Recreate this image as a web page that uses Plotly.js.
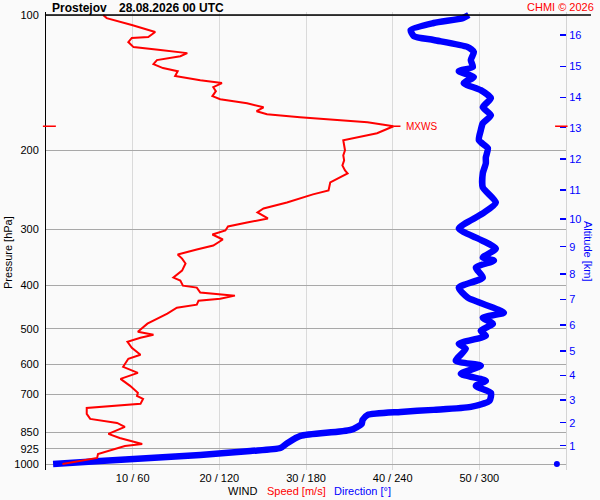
<!DOCTYPE html>
<html><head><meta charset="utf-8">
<script src="https://cdn.plot.ly/plotly-3.0.1.min.js"></script>
<style>html,body{margin:0;padding:0;background:#fafafa}</style>
</head><body><div id="chart" style="width:600px;height:500px"></div>
<script>
// Wind speed profile [hPa] / [m/s]
const speedPressure = [100,101.6,105.3,109.1,112.0,112.5,114.9,117.9,119.7,121.6,123.5,126.0,128.6,131.3,133.4,136.8,139.7,141.8,144.8,147.8,151.6,154.0,157.2,160.5,163.8,166.3,168.9,170.7,173.3,176.9,183.4,190.1,195.1,200.1,205.4,210.7,216.2,221.8,225.3,235.9,245.8,250.9,261.5,269.7,275.3,283.9,289.8,295.8,301.9,308.2,316.2,326.1,332.9,341.6,348.7,357.7,370.9,384.4,390.4,400.6,404.7,415.2,421.7,428.3,432.7,441.7,448.5,462.6,487.0,507.4,515.4,523.4,534.2,550.9,571.2,583.0,607.5,626.5,646.1,669.8,694.3,705.1,716.0,734.6,749.9,773.4,793.5,810.0,826.8,857.1,875.0,902.4,911.7,950.0,969.7,984.8,1000];
const speedValues = [6.6,7.0,9.9,12.6,11.8,9.9,9.5,10.1,13.2,16.3,15.5,12.8,12.4,13.5,15.2,14.9,17.8,20.3,19.3,19.6,19.2,20.1,23.2,25.1,24.3,25.5,29.3,32.8,37.1,40.1,38.2,34.3,34.4,34.5,34.3,34.4,34.2,34.5,34.8,32.8,32.6,30.8,27.8,25.1,24.4,25.6,23.2,21.0,20.7,19.2,20.4,19.3,17.4,15.2,15.7,16.1,15.7,14.7,15.5,15.8,17.4,17.8,21.8,20.1,17.6,17.4,15.1,14.0,11.7,10.6,12.4,10.9,9.4,9.9,10.9,9.5,8.9,10.6,8.6,9.7,10.6,10.5,11.2,10.9,4.7,4.7,5.1,8.2,9.1,7.2,8.5,11.1,9.1,6.0,5.9,3.9,1.9];

// Wind direction profile [hPa] / [deg]
const dirPressure = [100,101.6,104.2,108.0,111.4,113.7,117.9,120.9,126.0,130.6,133.4,137.5,141.8,147.0,153.2,160.5,167.2,174.2,180.6,190.1,198.1,207.5,214.0,225.3,242.1,261.5,276.7,298.8,314.6,331.2,346.9,352.3,365.2,384.4,404.7,426.1,460.2,472.2,487.0,504.8,518.0,539.7,553.8,589.0,604.3,629.7,652.8,669.8,694.3,723.4,746.1,757.6,765.5,777.4,797.6,814.2,839.6,865.9,897.8,921.1,935.4,954.9,969.7,984.8,1000];
const dirValues = [292.7,288.6,268.4,252.5,254.6,268.4,292.0,296.2,294.1,295.5,285.8,296.2,289.2,301.0,308.0,302.4,308.0,302.4,301.0,299.7,305.9,304.5,304.5,302.4,302.4,311.4,302.4,285.8,299.0,311.4,302.4,310.1,297.6,302.4,285.8,292.0,317.0,302.4,309.4,301.0,304.5,285.8,290.6,283.7,301.0,287.2,304.5,297.6,308.0,307.0,294.1,268.4,245.5,222.7,219.2,218.5,210.9,176.2,167.2,162.3,141.5,106.8,72.1,37.5,4.9];

const surfacePressure = [1000];
const surfaceDirection = [353.7];

const pressureTicks = [100,200,300,400,500,600,700,850,925,1000];
const altitudeTickPressure = [910.4,809.1,720.2,635.2,560.2,490.2,429.7,377.5,328.1,284.7,245.3,209.3,178.2,152.5,130.1,110.8];
const altitudeTickLabels = ['1','2','3','4','5','6','7','8','9','10','11','12','13','14','15','16'];
const windTickDirection = [60,120,180,240,300];
const windTickLabels = ['10 / 60','20 / 120','30 / 180','40 / 240','50 / 300'];

const FONT = 'Liberation Sans, Arial, sans-serif';
const RED = '#ff0000', BLUE = '#0000ff';

let maxIdx = 0;
speedValues.forEach((v,i)=>{ if(v>speedValues[maxIdx]) maxIdx=i; });
const maxSpeed = speedValues[maxIdx], maxP = speedPressure[maxIdx];

const yRange = [3.01336, 1.99332];

const traces = [
  {x: dirValues, y: dirPressure, xaxis:'x', yaxis:'y', mode:'lines', type:'scatter',
   line:{color:BLUE, width:6.5, shape:'spline', smoothing:0.6}, hoverinfo:'skip'},
  {x: surfaceDirection, y: surfacePressure, xaxis:'x', yaxis:'y', mode:'markers', type:'scatter',
   marker:{color:BLUE, size:6}, cliponaxis:false, hoverinfo:'skip'},
  {x: speedValues, y: speedPressure, xaxis:'x2', yaxis:'y2', mode:'lines', type:'scatter',
   line:{color:RED, width:2}, hoverinfo:'skip'}
];

const layout = {
  width:600, height:500,
  margin:{l:46, r:34, t:12, b:30},
  paper_bgcolor:'#fafafa', plot_bgcolor:'#fafafa',
  showlegend:false,
  font:{family:FONT, size:11, color:'#000'},
  xaxis:{range:[0,360], tickvals:windTickDirection, ticktext:windTickLabels,
    showgrid:true, gridcolor:'#dadada', gridwidth:1, zeroline:false, showline:false,
    ticks:'', tickfont:{size:11, color:'#000'}, fixedrange:true},
  xaxis2:{overlaying:'x', range:[0,60], visible:false, fixedrange:true},
  yaxis:{type:'log', range:yRange, tickvals:pressureTicks, ticktext:pressureTicks.map(String),
    showgrid:true, gridcolor:'#a8a8a8', gridwidth:1, zeroline:false,
    showline:true, linecolor:'#000', linewidth:1,
    ticks:'outside', ticklen:4, tickcolor:'rgba(0,0,0,0)', tickfont:{size:11,color:'#000'}, fixedrange:true},
  yaxis2:{type:'log', overlaying:'y', side:'right', range:yRange,
    tickvals:altitudeTickPressure, ticktext:altitudeTickLabels,
    ticks:'inside', ticklen:6, tickwidth:1.5, tickcolor:BLUE,
    tickfont:{size:11, color:BLUE}, showgrid:false, zeroline:false,
    showline:true, linecolor:'#d4d4d4', linewidth:1, fixedrange:true},
  shapes:[
    {type:'line', xref:'paper', yref:'y', x0:-0.002, x1:1.048, y0:100, y1:100, line:{color:'#000', width:1.5}},
    {type:'line', xref:'paper', yref:'y', x0:-0.006, x1:0.019, y0:maxP, y1:maxP, line:{color:RED, width:1.5}},
    {type:'line', xref:'paper', yref:'y', x0:0.979, x1:1.003, y0:maxP, y1:maxP, line:{color:RED, width:1.5}},
    {type:'line', xref:'x2', yref:'y', x0:maxSpeed, x1:maxSpeed+0.8, y0:maxP, y1:maxP, line:{color:RED, width:1.5}}
  ],
  annotations:[
    {text:'MXWS', xref:'x2', yref:'y', x:maxSpeed+1.2, y:Math.log10(maxP), xanchor:'left', yanchor:'middle',
     showarrow:false, font:{size:10, color:RED}},
    {text:'<b>Prostejov</b>', xref:'paper', yref:'paper', x:0.0077, y:1.0098, xanchor:'left', yanchor:'middle',
     showarrow:false, font:{size:12, color:'#000'}},
    {text:'<b>28.08.2026 00 UTC</b>', xref:'paper', yref:'paper', x:0.1365, y:1.0098, xanchor:'left', yanchor:'middle',
     showarrow:false, font:{size:12, color:'#000'}},
    {text:'CHMI © 2026', xref:'paper', yref:'paper', x:1.0577, y:1.012, xanchor:'right', yanchor:'middle',
     showarrow:false, font:{size:11, color:RED}},
    {text:'WIND', xref:'paper', yref:'paper', x:0.3462, y:-0.0459, xanchor:'left', yanchor:'middle',
     showarrow:false, font:{size:11, color:'#000'}},
    {text:'Speed [m/s]', xref:'paper', yref:'paper', x:0.4212, y:-0.0459, xanchor:'left', yanchor:'middle',
     showarrow:false, font:{size:11, color:RED}},
    {text:'Direction [°]', xref:'paper', yref:'paper', x:0.55, y:-0.0459, xanchor:'left', yanchor:'middle',
     showarrow:false, font:{size:11, color:BLUE}},
    {text:'Pressure [hPa]', xref:'paper', yref:'paper', x:-0.0731, y:0.476, xanchor:'center', yanchor:'middle',
     textangle:-90, showarrow:false, font:{size:11, color:'#000'}},
    {text:'Altitude [km]', xref:'paper', yref:'paper', x:1.0423, y:0.476, xanchor:'center', yanchor:'middle',
     textangle:90, showarrow:false, font:{size:11, color:BLUE}}
  ]
};

Plotly.newPlot('chart', traces, layout, {staticPlot:true, displayModeBar:false});
</script></body></html>
